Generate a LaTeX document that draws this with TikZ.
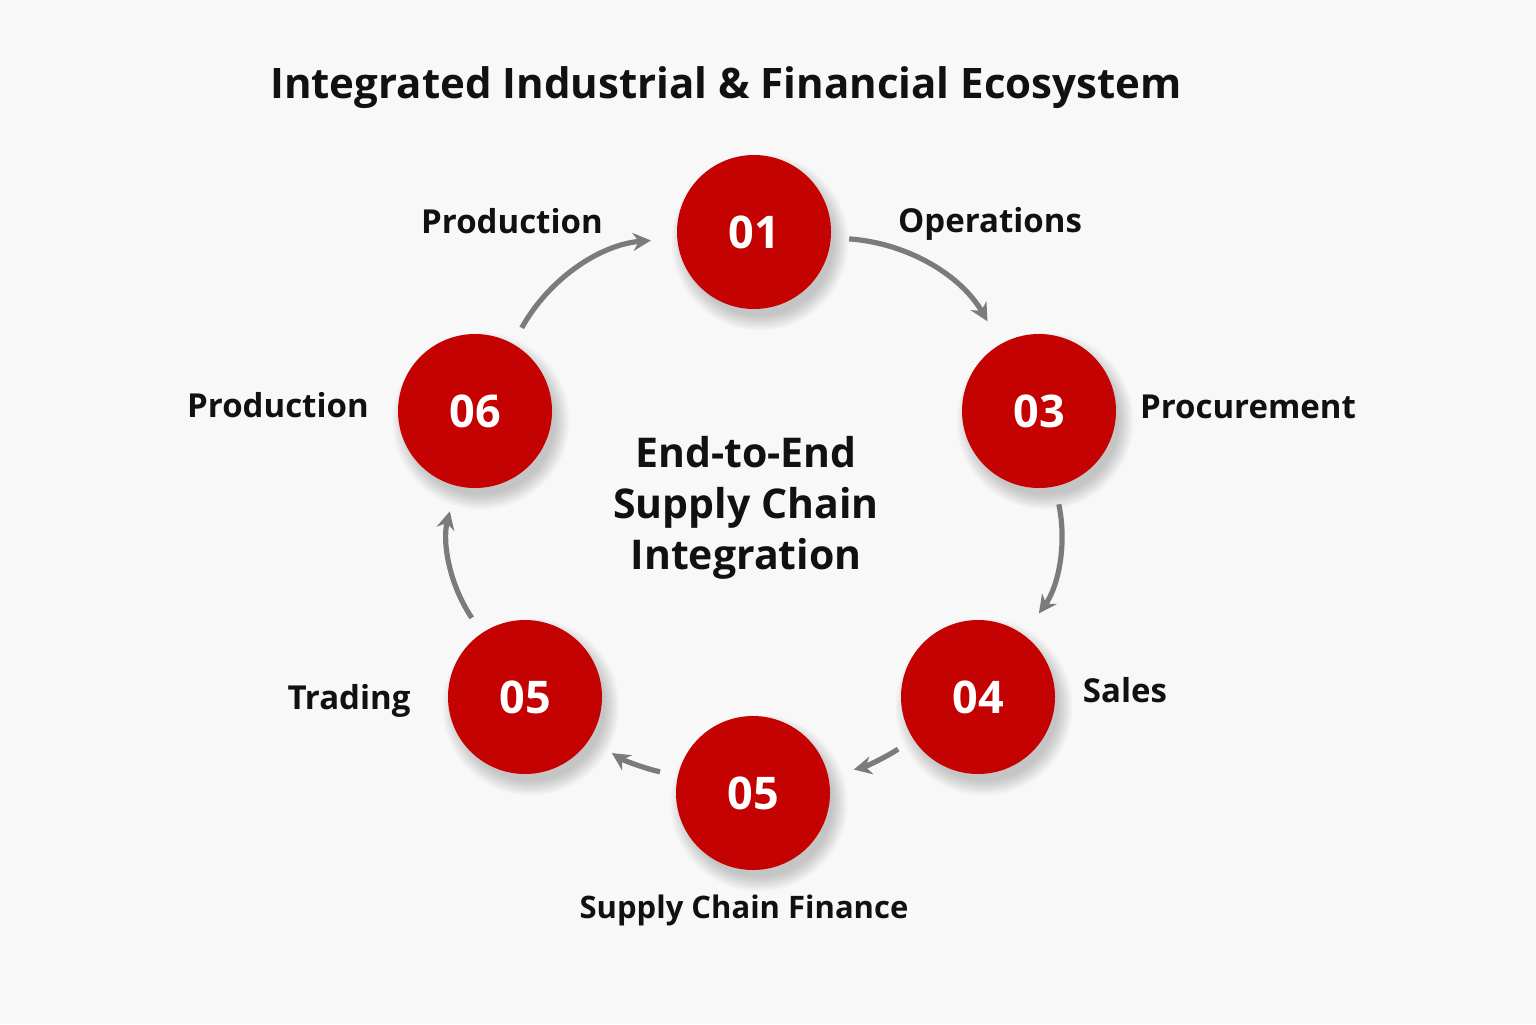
\documentclass[tikz,border=0pt]{standalone}
\usepackage{fontspec}
\setmainfont{Open Sans}
\usetikzlibrary{arrows.meta,backgrounds}
\definecolor{stagered}{HTML}{C40202}
\definecolor{flowgray}{HTML}{7B7B7D}
\definecolor{paper}{HTML}{F8F8F8}
\definecolor{ink}{HTML}{111111}
\tikzstyle{stage}=[circle, fill=stagered, text=white, inner sep=0pt, minimum size=77pt,
    font=\fontsize{22.5}{27}\selectfont\bfseries]
\tikzstyle{tag}=[text=ink, inner sep=0pt, font=\fontsize{16.5}{20}\selectfont\bfseries]
\newcommand{\stage}{\node[stage]}
\newcommand{\tag}{\node[tag]}

\begin{document}
\begin{tikzpicture}[x=0.5pt, y=-0.5pt
    ,every edge/.style={
        draw=flowgray, line width=2.6pt,
        -{Stealth[length=9pt, width=9pt]},
        shorten <=9pt, shorten >=13pt}
]
\useasboundingbox (0,0) rectangle (1536,1024);
\node[text=ink, font=\fontsize{21}{25}\selectfont\bfseries] (title) at (726,88)
    {Integrated Industrial \& Financial Ecosystem};
% stages
\stage (s01) at (754,232) {01};
\stage (s03) at (1039,411) {03};
\stage (s04) at (978,697) {04};
\stage (s05) at (753,793) {05};
\stage (s05b) at (525,697) {05};
\stage (s06) at (475,411) {06};
% labels
\tag (l01) at (512,221) {Production};
\tag (l02) at (990,224) {Operations};
\tag (l03) at (1248,407) {Procurement};
\tag (l04) at (1125,690) {Sales};
\tag (l05) at (744,910) {\fontsize{15.5}{18}\selectfont Supply Chain Finance};
\tag (l06) at (349,701) {Trading};
\tag (l07) at (278,405) {Production};
\node[text=ink, align=center, font=\fontsize{20.5}{25.5}\selectfont\bfseries] (core) at (746,508)
    {End-to-End\\Supply Chain\\Integration};
\path
(s06) edge[bend left=28] (s01)
(s01) edge[bend left=28] (s03)
(s03) edge[bend left=24] (s04)
(s04) edge[bend left=10] (s05)
(s05) edge[bend left=10] (s05b)
(s05b) edge[bend left=24] (s06)
;
% soft shadows
\begin{scope}[on background layer]
\fill[paper] (0,0) rectangle (1536,1024);
\foreach \n in {s01,s03,s04,s05,s05b,s06}
  \foreach \k in {0,...,8}
    \fill[black, opacity=0.022] ([shift={(3pt,-5pt)}]\n.center) circle ({37pt+\k*0.9pt});
\end{scope}
\end{tikzpicture}
\end{document}
